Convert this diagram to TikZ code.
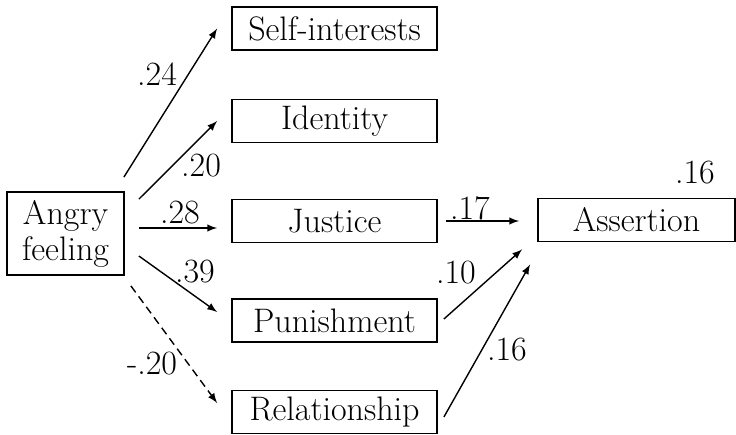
\documentclass[tikz,border=0pt]{standalone}
\usepackage{tikz}
\usetikzlibrary{arrows}

\begin{document}
\begin{tikzpicture}[x=0.5pt,y=-0.5pt,>=latex,
    every node/.style={font=\fontsize{17}{18}\selectfont},
    varbox/.style={draw,line width=0.9pt,minimum width=98.5pt,minimum height=21.5pt,inner sep=0pt},
    path/.style={->,line width=0.7pt}]
    \useasboundingbox (0,0) rectangle (736,435);
    \node[varbox,minimum width=58.5pt,minimum height=41.5pt,align=center] (angry) at (65.5,233.5) {Angry\\feeling};
    \node[varbox,minimum width=102.5pt] (self) at (334.5,28.5) {Self-interests};
    \node[varbox,minimum width=102.5pt] (identity) at (334.5,121) {Identity};
    \node[varbox,minimum width=102.5pt] (justice) at (334.5,221) {Justice};
    \node[varbox,minimum width=102.5pt] (punish) at (334.5,320.5) {Punishment};
    \node[varbox,minimum width=102.5pt] (relation) at (334.5,412) {Relationship};
    \node[varbox] (assert) at (636.5,220) {Assertion};
    \draw[path] ([xshift=-0.5pt,yshift=7pt]angry.north east) -- ([xshift=-7pt]self.west);
    \draw[path] ([xshift=7pt,yshift=-4pt]angry.north east) -- ([xshift=-7pt]identity.west);
    \draw[path] ([xshift=7pt,yshift=2.75pt]angry.east) -- ([xshift=-7pt,yshift=-3.5pt]justice.west);
    \draw[path] ([xshift=7pt,yshift=-11.25pt]angry.east) -- ([xshift=-7pt,yshift=4.25pt]punish.west);
    \draw[path,dash pattern=on 4pt off 2.5pt] ([xshift=3pt,yshift=-5pt]angry.south east) -- ([xshift=-7pt,yshift=4.5pt]relation.west);
    \draw[path] ([xshift=4pt]justice.east) -- ([xshift=-9pt,yshift=-0.5pt]assert.west);
    \draw[path] ([xshift=3pt,yshift=0.75pt]punish.east) -- ([xshift=-7.5pt,yshift=-3.5pt]assert.south west);
    \draw[path] ([xshift=3pt,yshift=-2.5pt]relation.east) -- ([xshift=-3.5pt,yshift=-11pt]assert.south west);
    \node (c24) at (157,74) {.24}; \node (c20) at (201,166) {.20};
    \node (c28) at (180,213) {.28}; \node (c39) at (195,272) {.39};
    \node (c20n) at (152,364) {-.20}; \node (c17) at (470,208) {.17};
    \node (c10) at (456,273) {.10}; \node (c16) at (507,350) {.16};
    \node (r16) at (695,173) {.16};
\end{tikzpicture}
\end{document}
